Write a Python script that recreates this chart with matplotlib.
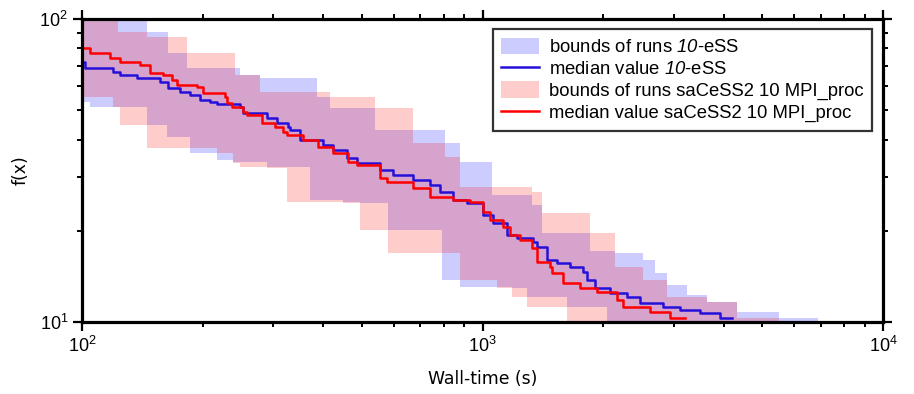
import matplotlib
matplotlib.use('Agg')
import matplotlib.pyplot as plt
from matplotlib.ticker import NullFormatter

plt.rcParams['font.family'] = ['Liberation Sans', 'DejaVu Sans']
plt.rcParams['mathtext.fontset'] = 'custom'
plt.rcParams['mathtext.rm'] = 'Liberation Sans'
plt.rcParams['mathtext.it'] = 'Liberation Sans:italic'
plt.rcParams['mathtext.sf'] = 'Liberation Sans:italic'

# ---------------- data ----------------
# 10-eSS median
ess_med_x = [100, 101.7, 119.5, 124.4, 137.2, 156.6, 163.9, 175.7, 186.0, 197.1,
             208.7, 217.3, 248.0, 252.3, 289.7, 306.8, 326.8, 330.6, 350.2, 399.8,
             423.4, 458.8, 486.0, 554.7, 597.8, 670.7, 739.4, 783.2, 843.9, 914.8,
             1002.8, 1062.2, 1151.4, 1219.6, 1337.2, 1368.3, 1448.8, 1534.7, 1654.0, 1782.1,
             1823.6, 1909.6, 2081.5, 2295.2, 2474.2, 2822.9, 3113.0, 3491.0, 3917.0]
ess_med_y = [72.1, 68.9, 66.8, 65.3, 63.9, 62.0, 59.2, 57.4, 56.1, 54.0,
             53.2, 52.4, 51.2, 49.0, 47.1, 45.4, 44.0, 43.0, 39.9, 38.4,
             37.0, 34.8, 33.5, 31.8, 30.6, 29.4, 28.3, 26.9, 25.3, 24.7,
             22.6, 21.2, 19.4, 18.9, 18.4, 17.7, 16.0, 15.7, 15.2, 14.6,
             13.8, 12.95, 12.47, 12.09, 11.55, 11.21, 10.96, 10.71, 10.31]
ess_med_end = 4198

# 10-eSS bounds
ess_up_x = [100, 145.3, 163.9, 182.9, 248.0, 278.3, 386.2, 416.2, 539.0, 806.0,
            878.5, 1056.1, 1329.5, 1408.3, 1855.4, 2142.0, 2516.0, 2696.0, 2889.0, 3241.0,
            3636.4, 4320.0, 5500.0]
ess_up_y = [110, 90.6, 77.2, 68.9, 65.3, 63.9, 55.3, 50.8, 43.0, 39.0,
            33.7, 26.2, 24.3, 19.7, 17.2, 16.9, 16.0, 14.5, 13.2, 12.3,
            11.6, 10.75, 10.3]
ess_lo_x = [100, 104.7, 145.3, 163.0, 186.0, 217.3, 238.3, 289.7, 370.9, 448.4,
            494.5, 580.8, 792.2, 878.5, 1185.0, 1291.8, 1625.7, 2045.9]
ess_lo_y = [53.2, 51.2, 44.7, 40.8, 36.1, 34.3, 33.7, 32.5, 25.3, 24.9,
            24.7, 20.1, 13.8, 13.05, 12.95, 12.09, 11.21, 9.8]
ess_band_end = 6900

# saCeSS2 10 MPI_proc median
sac_med_x = [100, 104.7, 117.5, 124.4, 139.6, 147.8, 159.3, 167.8, 172.7, 193.7,
             200.5, 227.5, 230.1, 236.9, 252.3, 258.2, 281.5, 303.3, 317.6, 325.0,
             356.3, 388.4, 423.4, 461.4, 486.0, 554.7, 577.5, 670.7, 739.4, 843.9,
             930.7, 1002.8, 1044.0, 1125.2, 1171.4, 1240.8, 1329.5, 1368.3, 1474.1, 1491.2,
             1588.7, 1751.6, 1931.7, 2166.8, 2243.0, 2619.4, 2938.6]
sac_med_y = [80.2, 77.2, 74.3, 72.1, 70.5, 66.3, 65.3, 62.9, 60.6, 59.6,
             57.0, 55.3, 52.8, 51.2, 49.3, 48.2, 45.4, 44.0, 42.4, 41.4,
             39.9, 37.8, 36.1, 33.7, 33.0, 29.9, 29.0, 27.7, 25.9, 25.3,
             24.9, 23.1, 21.7, 20.6, 19.4, 18.6, 17.5, 15.8, 15.2, 14.5,
             13.4, 12.95, 12.56, 11.82, 11.21, 10.79, 10.31]
sac_med_end = 3204

# saCeSS2 bounds
sac_up_x = [100, 123.0, 145.3, 182.9, 241.0, 278.3, 416.2, 539.0, 670.7, 806.0,
            878.5, 1329.5, 1408.3, 1855.4, 2142.0, 2516.0, 2889.0, 3636.4, 4320.0]
sac_up_y = [110, 90.6, 87.2, 77.2, 65.3, 57.4, 55.3, 50.8, 39.0, 35.0,
            27.9, 26.9, 22.9, 19.7, 15.2, 13.8, 12.09, 11.6, 10.3]
sac_lo_x = [100, 119.5, 124.4, 145.3, 217.3, 238.3, 248.0, 289.7, 325.0, 448.4,
            494.5, 580.8, 878.5, 1086.9, 1185.0, 1291.8, 1625.7]
sac_lo_y = [55.3, 51.2, 44.7, 37.5, 36.1, 33.5, 32.5, 32.2, 24.9, 24.7,
            20.1, 16.9, 13.8, 12.95, 12.09, 11.21, 9.8]
sac_band_end = 5500

labels = ['bounds of runs $\\mathsf{10}$-eSS', 'median value $\\mathsf{10}$-eSS',
          'bounds of runs saCeSS2 10 MPI_proc', 'median value saCeSS2 10 MPI_proc']


def steps(x, y, xend):
    xs, ys = [], []
    for i in range(len(x)):
        x1 = x[i + 1] if i + 1 < len(x) else xend
        xs += [x[i], x1]
        ys += [y[i], y[i]]
    return xs, ys


def band(ux, uy, lx, ly, xend):
    a, b = steps(ux, uy, xend)
    c, d = steps(lx, ly, xend)
    return a + c[::-1], b + d[::-1]


fig = plt.figure(figsize=(9.14, 3.94), dpi=100)
ax = fig.add_axes([82 / 914, 1 - 322 / 394, 801 / 914, 303 / 394])

bx, by = band(ess_up_x, ess_up_y, ess_lo_x, ess_lo_y, ess_band_end)
h1 = ax.fill(bx, by, color=(0, 0, 1), alpha=0.2, lw=0, label=labels[0])[0]
rx, ry = band(sac_up_x, sac_up_y, sac_lo_x, sac_lo_y, sac_band_end)
h3 = ax.fill(rx, ry, color=(1, 0, 0), alpha=0.2, lw=0, label=labels[2])[0]

mx, my = steps(ess_med_x, ess_med_y, ess_med_end)
h2, = ax.plot(mx, my, color='#2410d8', lw=1.8, label=labels[1])
sx, sy = steps(sac_med_x, sac_med_y, sac_med_end)
h4, = ax.plot(sx, sy, color='#ff0000', lw=1.8, label=labels[3])

ax.set_xscale('log')
ax.set_yscale('log')
ax.set_xlim(100, 1e4)
ax.set_ylim(10, 100)
ax.xaxis.set_minor_formatter(NullFormatter())
ax.yaxis.set_minor_formatter(NullFormatter())

for s in ax.spines.values():
    s.set_linewidth(2.3)
ax.tick_params(which='both', direction='out', top=True, right=True, labelsize=13)
ax.tick_params(which='major', length=6.5, width=1.6)
ax.tick_params(which='minor', length=3.5, width=1.4)

ax.set_xlabel('Wall-time (s)', family='DejaVu Sans', fontsize=12.4, labelpad=10)
ax.set_ylabel('f(x)', family='DejaVu Sans', fontsize=12.4, labelpad=7)

leg = ax.legend(handles=[h1, h2, h3, h4], loc='upper right',
                bbox_to_anchor=(0.986, 0.966), borderaxespad=0, fontsize=13.3,
                frameon=True, fancybox=False, framealpha=1, handlelength=2.05,
                handleheight=1.0, labelspacing=0.18, borderpad=0.45, handletextpad=0.55)
leg.get_frame().set_edgecolor('#333333')
leg.get_frame().set_linewidth(1.6)

fig.savefig('out.png', dpi=100)
